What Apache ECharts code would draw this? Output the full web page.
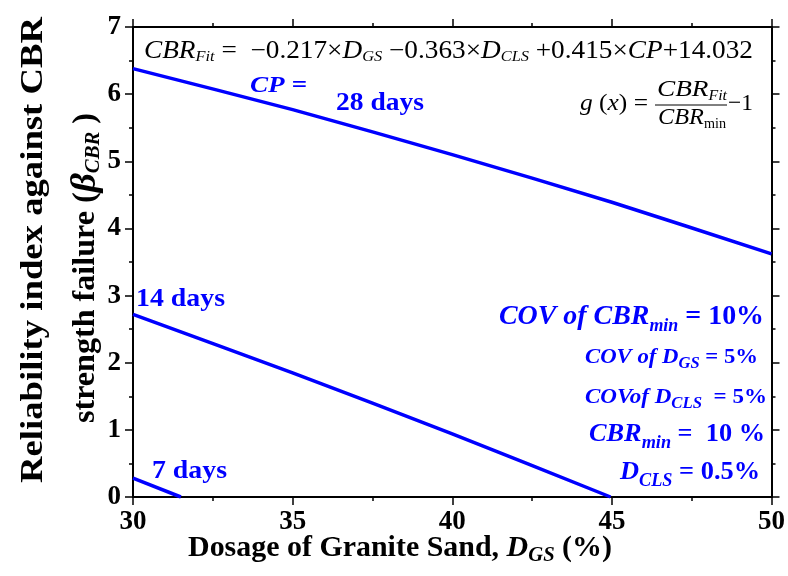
<!DOCTYPE html>
<html><head><meta charset="utf-8">
<script src="https://cdn.jsdelivr.net/npm/echarts@6/dist/echarts.min.js"></script>
<style>html,body{margin:0;padding:0;background:#fff}#c{width:788px;height:576px}</style>
</head><body><div id="c"></div>
<script>
// ---- data ----
var dgs28 = [30, 35, 40, 45, 50];
var beta28 = [6.38, 5.77, 5.10, 4.39, 3.62];
var dgs14 = [30, 35, 40, 44.96];
var beta14 = [2.72, 1.85, 0.94, 0];
var dgs7 = [30, 31.5];
var beta7 = [0.28, 0];
var xTicks = [30, 35, 40, 45, 50];
var yTicks = [0, 1, 2, 3, 4, 5, 6, 7];

var SERIF = '"Liberation Serif","Times New Roman",serif';
var BLUE = '#0000ff';
var cvs = document.createElement('canvas').getContext('2d');
function fnt(style, size){ return style + ' ' + size + 'px ' + SERIF; }
// segs: [text, fontStyle, size, dy]; tw = target width (horizontal stretch)
function line(segs, x, y, align, color, rot, tw){
  var w = 0, items = [];
  segs.forEach(function(s){ cvs.font = fnt(s[1], s[2]); var sw = cvs.measureText(s[0]).width; items.push([s, w]); w += sw; });
  var x0 = align === 'center' ? -w/2 : (align === 'right' ? -w : 0);
  var sx = tw ? tw / w : 1;
  var children = items.map(function(it){
    var s = it[0];
    return {type:'text', x: x0 + it[1], y: (s[3]||0), style:{text:s[0], font:fnt(s[1], s[2]), fill: color, textAlign:'left', textVerticalAlign:'middle'}};
  });
  return {type:'group', x:x, y:y, rotation: rot||0, scaleX: sx, scaleY: 1, children:children, silent:true};
}
function lineData(xs, ys){ return xs.map(function(v,i){ return [v, ys[i]]; }); }

var chart = echarts.init(document.getElementById('c'));
var axisCommon = {
  axisLine:{show:true, onZero:false, lineStyle:{color:'#000', width:2}},
  axisTick:{show:true, inside:false, length:8, lineStyle:{color:'#000', width:1.5}},
  minorTick:{show:true, splitNumber:2, length:4, lineStyle:{color:'#000', width:1.5}},
  splitLine:{show:false}
};
var lbl = {color:'#000', fontFamily:SERIF, fontWeight:'bold', fontSize:27};
var graphics = [
  // y title
  line([['Reliability index against CBR','bold',31,0]], 34, 250, 'center', '#000', Math.PI/2, 466),
  line([['strength failure (','bold',31,0],['\u03B2','bold italic',36,0],['CBR','bold italic',20,8],[' )','bold',31,0]], 86, 268, 'center', '#000', Math.PI/2, 310),
  // x title
  line([['Dosage of Granite Sand, ','bold',29,0],['D','bold italic',29,0],['GS','bold italic',20,7],[' (%)','bold',29,0]], 400, 549, 'center', '#000', 0, 424),
  // equation
  line([['CBR','italic',25,0],['Fit','italic',15,6],[' =  \u22120.217\u00D7','normal',25,0],['D','italic',25,0],['GS','italic',15,6],[' \u22120.363\u00D7','normal',25,0],['D','italic',25,0],['CLS','italic',15,6],[' +0.415\u00D7','normal',25,0],['CP','italic',25,0],['+14.032','normal',25,0]], 144, 51, 'left', '#000', 0, 609),
  // g(x)
  line([['g','italic',24,0],[' (','normal',24,0],['x','italic',24,0],[')','normal',24,0],[' =','normal',24,0]], 580, 104, 'left', '#000', 0, 68),
  line([['CBR','italic',24,0],['Fit','italic',14,6]], 692, 90, 'center', '#000', 0, 70),
  line([['CBR','italic',24,0],['min','normal',14,6]], 692, 118, 'center', '#000', 0, 68),
  {type:'line', shape:{x1:655, y1:105, x2:727, y2:105}, style:{stroke:'#000', lineWidth:1}, silent:true},
  line([['\u22121','normal',24,0]], 728, 104, 'left', '#000', 0, 25),
  // blue labels
  line([['CP =','bold italic',24,0]], 250, 86, 'left', BLUE, 0, 57),
  line([['28 days','bold',25,0]], 336, 104, 'left', BLUE, 0, 88),
  line([['14 days','bold',25,0]], 136, 300, 'left', BLUE, 0, 89),
  line([['7 days','bold',25,0]], 152, 472, 'left', BLUE, 0, 75),
  line([['COV of CBR','bold italic',28,0],['min','bold italic',18,9],[' = 10%','bold',28,0]], 764, 317, 'right', BLUE, 0, 265),
  line([['COV of D','bold italic',22,0],['GS','bold italic',16,7],[' = 5%','bold',22,0]], 758, 357, 'right', BLUE, 0, 173),
  line([['COVof D','bold italic',22,0],['CLS','bold italic',16,7],['  = 5%','bold',22,0]], 767, 397, 'right', BLUE, 0, 182),
  line([['CBR','bold italic',26,0],['min','bold italic',18,9],[' =  10 %','bold',26,0]], 765, 434, 'right', BLUE, 0, 176),
  line([['D','bold italic',26,0],['CLS','bold italic',18,9],[' = 0.5%','bold',26,0]], 760, 472, 'right', BLUE, 0, 140)
];

chart.setOption({
  animation:false,
  backgroundColor:'#fff',
  grid:{left:133, right:16, top:27, bottom:79},
  xAxis:[
    Object.assign({type:'value', position:'bottom', min:30, max:50, interval:5,
      axisLabel:Object.assign({margin:12, formatter:function(v){return xTicks.indexOf(v)>=0?String(v):'';}}, lbl)}, axisCommon),
    Object.assign({type:'value', position:'top', min:30, max:50, interval:5, axisLabel:{show:false}}, axisCommon)
  ],
  yAxis:[
    Object.assign({type:'value', position:'left', min:0, max:7, interval:1,
      axisLabel:Object.assign({margin:12, formatter:function(v){return yTicks.indexOf(v)>=0?String(v):'';}}, lbl)}, axisCommon),
    Object.assign({type:'value', position:'right', min:0, max:7, interval:1, axisLabel:{show:false}}, axisCommon)
  ],
  series:[
    {type:'line', data:lineData(dgs28, beta28), showSymbol:false, symbol:'none', smooth:0.2, lineStyle:{color:BLUE, width:3.5}, clip:true},
    {type:'line', data:lineData(dgs14, beta14), showSymbol:false, symbol:'none', smooth:0.2, lineStyle:{color:BLUE, width:3.5}, clip:true},
    {type:'line', data:lineData(dgs7, beta7), showSymbol:false, symbol:'none', lineStyle:{color:BLUE, width:3.5}, clip:true}
  ],
  graphic:graphics
});
</script></body></html>
